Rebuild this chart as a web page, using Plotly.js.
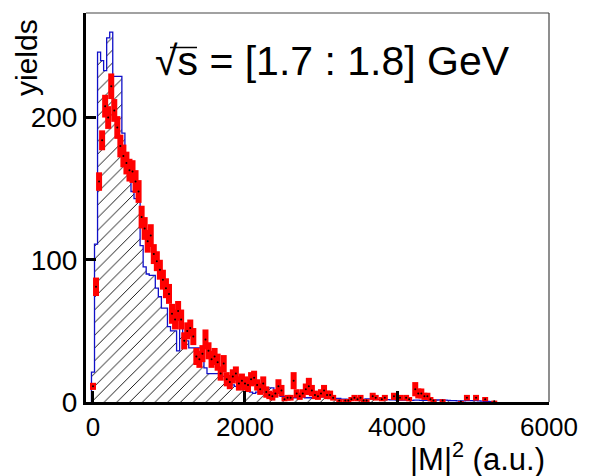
<!DOCTYPE html>
<html>
<head>
<meta charset="utf-8">
<script src="https://cdn.plot.ly/plotly-3.0.1.min.js"></script>
<style>html,body{margin:0;padding:0;background:#fff;}#chart{width:592px;height:476px;}</style>
</head>
<body>
<div id="chart"></div>
<script>
// ---- data ----
const histCenters = [0,40,80,120,160,200,240,280,320,360,400,440,480,520,560,600,640,680,720,760,800,840,880,920,960,1000,1040,1080,1120,1160,1200,1240,1280,1320,1360,1400,1440,1480,1520,1560,1600,1640,1680,1720,1760,1800,1840,1880,1920,1960,2000,2040,2080,2120,2160,2200,2240,2280,2320,2360,2400,2440,2480,2520,2560,2600,2640,2680,2720,2760,2800,2840,2880,2920,2960,3000,3040,3080,3120,3160,3200,3240,3280,3320,3360,3400,3440,3480,3520,3560,3600,3640,3680,3720,3760,3800,3840,3880,3920,3960,4000,4040,4080,4120,4160,4200,4240,4280,4320,4360,4400,4440,4480,4520,4560,4600,4640,4680,4720,4760,4800,4840,4880,4920,4960,5000,5040,5080,5120,5160,5200,5240,5280];
const histValues = [21,111,246,240,233,256,260,229,229,229,189,175,162,148,143,143,110,95,90,89,89,80,74,66,66,53,50,50,36,52,43,43,38,38,38,38,38,24,20,20,20,20,18,18,12,12,12,11,12,9,9,9,7,6,7,7,7,6,10,10,7,6,4,4,3.5,3.5,3,3,3.7,3.7,3,3,3,2.8,3.7,3.7,3.7,3,2.5,2.6,2.6,2.6,2,2,1.9,1.9,1.9,1.8,1.8,1.8,2.2,2.2,2.2,2,1.9,1.8,1.6,1.6,1.5,1.5,1.4,1.4,1.3,1.3,1.2,1.2,1.3,1.3,1.2,1.1,1.1,1,1,1.4,1.4,1.4,1.3,1.2,1,0.9,0.8,0.8,0.8,0.9,1,1,1,0.8,0.6,0.5,0.4,0.3,0.2];
const binWidth = 40;

const dataX = [0,40,80,120,160,200,240,280,320,360,400,440,480,520,560,600,640,680,720,760,800,840,880,920,960,1000,1040,1080,1120,1160,1200,1240,1280,1320,1360,1400,1440,1480,1520,1560,1600,1640,1680,1720,1760,1800,1840,1880,1920,1960,2000,2040,2080,2120,2160,2200,2240,2280,2320,2360,2400,2440,2480,2520,2560,2600,2640,2680,2720,2760,2800,2840,2880,2920,2960,3000,3040,3080,3120,3160,3240,3320,3360,3400,3440,3480,3520,3560,3600,3680,3720,3800,3840,3960,4040,4120,4160,4240,4280,4320,4360,4400,4440,4480,4600,4840,4920,5040,5160,5280];
const dataY = [11,81,155,184,208,200,222,205,193,180,173,168,163,162,155,148,130,122,113,117,104,99,93,86,80,76,62,58,64,58,43,50,52,46,32,30,34,44,36,30,32,28,20,27,16,14,18,20,13,15,13,12,16,17,12,9,13,7,5,4,6,11,8,2,3,3,15,6,4,6,9,11,8,5,4,6,8,5,5,3,1,1,1,2,3,2,3,1,1,4,3,2,3,4,3,3,2,9,6,6,4,4,2,1,1,0.3,3,3,2,0.5];
const dataErr = [2.5,6.5,6.5,7,8,8,9,8,8,8,8,8,8,8,8,8,8,8,8,8,7,7,7,7,7,7,7,7,7,7,6,6,6,6,6,6,6,7,6,6,6,6,5,6,5,5,5,5,5,5,5,5,5,5,4,4,5,4,3,3,3,5,4,1.5,2,2,6,3,2.5,3,4,6,4,3,2.5,3,4,3,3,2,1,1,1,1.5,2,1.5,2,1,1,2.5,2,1.5,2,2.5,2,2,1.5,5,3.5,3.5,2.5,2.5,1.5,1,1,0.3,2,2,1.5,0.5];

const xTicks = [0,2000,4000,6000];
const yTicks = [0,100,200];
const titleText = '√s = [1.7 : 1.8] GeV';
const xTitle = '|M|<sup>2</sup> (a.u.)';
const yTitle = 'yields';

// ---- build step outline from bins ----
const stepX = [histCenters[0] - binWidth/2];
const stepY = [0];
for (let i = 0; i < histCenters.length; i++) {
  stepX.push(histCenters[i] - binWidth/2);
  stepY.push(histValues[i]);
}
stepX.push(histCenters[histCenters.length-1] + binWidth/2);
stepY.push(histValues[histValues.length-1]);
stepX.push(histCenters[histCenters.length-1] + binWidth/2);
stepY.push(0);

const FONT = 'Liberation Sans, Arial, Helvetica, sans-serif';

const traces = [
  {
    type: 'scatter', mode: 'lines', x: stepX, y: stepY,
    line: {shape: 'hv', color: '#1010c8', width: 1.3},
    fill: 'tozeroy', fillcolor: 'white',
    fillpattern: {shape: '/', fgcolor: '#000', bgcolor: 'white', size: 9, solidity: 0.1},
    hoverinfo: 'skip'
  },
  {
    type: 'scatter', mode: 'markers', x: dataX, y: dataY,
    marker: {color: '#000', size: 2},
    error_y: {type: 'data', array: dataErr, visible: true, color: '#ff0000', thickness: 6, width: 0},
    hoverinfo: 'skip'
  }
];

const L = 86, R = 43, T = 13, B = 74, W = 592, H = 476;
const PW = W - L - R, PH = H - T - B;
const px = v => (v - L) / PW;
const py = v => (H - B - v) / PH;

const layout = {
  width: W, height: H,
  margin: {l: L, r: R, t: T, b: B, pad: 0},
  paper_bgcolor: 'white', plot_bgcolor: 'white',
  showlegend: false,
  font: {family: FONT, color: '#000'},
  xaxis: {
    range: [-92, 6000], tickvals: xTicks, ticktext: xTicks.map(String),
    ticks: 'inside', ticklen: 11, tickwidth: 3, tickcolor: '#000',
    showline: true, linewidth: 3, linecolor: '#000', mirror: false,
    showgrid: false, zeroline: false,
    tickfont: {family: FONT, size: 26, color: '#000'}
  },
  yaxis: {
    range: [0, 273.5], tickvals: yTicks, ticktext: yTicks.map(String),
    ticks: 'inside', ticklen: 10, tickwidth: 3, tickcolor: '#000',
    showline: true, linewidth: 3, linecolor: '#000', mirror: false,
    showgrid: false, zeroline: false,
    tickfont: {family: FONT, size: 28, color: '#000'}
  },
  shapes: [
    {type: 'line', xref: 'paper', yref: 'paper', x0: 0, x1: 1, y0: 1, y1: 1, line: {color: '#444', width: 1.2}},
    {type: 'line', xref: 'paper', yref: 'paper', x0: 1, x1: 1, y0: 0, y1: 1, line: {color: '#444', width: 1.2}},
    {type: 'line', xref: 'paper', yref: 'paper', x0: px(170), x1: px(197), y0: py(47.5), y1: py(47.5), line: {color: '#000', width: 1.5}}
  ],
  annotations: [
    {text: titleText, xref: 'paper', yref: 'paper', x: px(153), y: py(61), xanchor: 'left', yanchor: 'middle',
     showarrow: false, font: {family: FONT, size: 41, color: '#000'}},
    {text: yTitle, xref: 'paper', yref: 'paper', x: px(26), y: py(57), xanchor: 'center', yanchor: 'middle',
     textangle: -90, showarrow: false, font: {family: FONT, size: 30, color: '#000'}},
    {text: xTitle, xref: 'paper', yref: 'paper', x: px(547), y: py(457), xanchor: 'right', yanchor: 'middle',
     showarrow: false, font: {family: FONT, size: 31, color: '#000'}}
  ]
};

Plotly.newPlot('chart', traces, layout, {staticPlot: true, displayModeBar: false});
</script>
</body>
</html>
